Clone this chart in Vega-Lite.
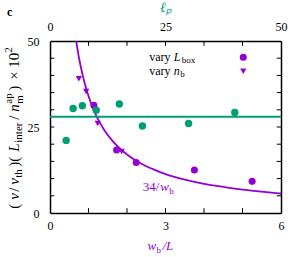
{
  "$schema": "https://vega.github.io/schema/vega-lite/v6.json",
  "autosize": {"type": "none"},
  "padding": {"left": 50, "top": 41, "right": 24, "bottom": 44},
  "width": 231,
  "height": 172,
  "config": {
    "view": {"stroke": null},
    "font": "Liberation Serif",
    "axis": {
      "labelFont": "Liberation Serif", "labelFontSize": 12, "labelColor": "black",
      "domainColor": "black", "domainWidth": 1.5, "ticks": false,
      "grid": false, "labelOverlap": false, "labelFlush": false,
      "titleFont": "Liberation Serif", "titleColor": "black", "titleFontWeight": "normal"
    },
    "text": {"font": "Liberation Serif", "align": "left", "baseline": "alphabetic"}
  },
  "datasets": {
    "green": [
      {"lp": 3.5, "v": 21.1}, {"lp": 5, "v": 30.4}, {"lp": 7, "v": 31.2}, {"lp": 10, "v": 29.9},
      {"lp": 15, "v": 31.7}, {"lp": 20, "v": 25.3}, {"lp": 30, "v": 26.0}, {"lp": 40, "v": 29.2}
    ],
    "circles": [
      {"wb": 1.14, "v": 31.3}, {"wb": 1.73, "v": 18.3}, {"wb": 2.24, "v": 14.7},
      {"wb": 3.75, "v": 12.5}, {"wb": 5.25, "v": 9.2}
    ],
    "triangles": [
      {"wb": 0.75, "v": 39.0}, {"wb": 0.94, "v": 35.3}, {"wb": 1.24, "v": 26.0}, {"wb": 1.86, "v": 17.9}
    ],
    "curve": [
      {"wb": 0.68, "v": 50.0}, {"wb": 0.72, "v": 47.2}, {"wb": 0.76, "v": 44.7}, {"wb": 0.8, "v": 42.5},
      {"wb": 0.85, "v": 40.0}, {"wb": 0.9, "v": 37.8}, {"wb": 1.0, "v": 34.0}, {"wb": 1.1, "v": 30.9},
      {"wb": 1.2, "v": 28.3}, {"wb": 1.3, "v": 26.2}, {"wb": 1.4, "v": 24.3}, {"wb": 1.6, "v": 21.25},
      {"wb": 1.8, "v": 18.9}, {"wb": 2.0, "v": 17.0}, {"wb": 2.25, "v": 15.1}, {"wb": 2.5, "v": 13.6},
      {"wb": 2.75, "v": 12.4}, {"wb": 3.0, "v": 11.3}, {"wb": 3.5, "v": 9.7}, {"wb": 4.0, "v": 8.5},
      {"wb": 4.5, "v": 7.6}, {"wb": 5.0, "v": 6.8}, {"wb": 5.5, "v": 6.2}, {"wb": 6.0, "v": 5.67}
    ],
    "level": [{"v": 28.0}],
    "yticks": [{"t": 5}, {"t": 10}, {"t": 15}, {"t": 20}, {"t": 25}, {"t": 30}, {"t": 35}, {"t": 40}, {"t": 45}],
    "xticks": [{"t": 1}, {"t": 2}, {"t": 3}, {"t": 4}, {"t": 5}]
  },
  "layer": [
    {
      "encoding": {
        "x": {"type": "quantitative", "scale": {"domain": [0, 6], "nice": false, "zero": false}},
        "y": {"type": "quantitative", "scale": {"domain": [0, 50], "nice": false, "zero": false}}
      },
      "layer": [
        {
          "data": {"name": "curve"},
          "mark": {"type": "line", "color": "#9400d3", "strokeWidth": 1.8, "interpolate": "monotone", "clip": true},
          "encoding": {
            "x": {"field": "wb", "type": "quantitative",
              "axis": {"orient": "bottom", "values": [0, 3, 6], "labelPadding": 7, "title": null}},
            "y": {"field": "v", "type": "quantitative",
              "axis": {"orient": "left", "values": [0, 25, 50], "labelPadding": 11, "title": null}}
          }
        },
        {
          "data": {"name": "yticks"},
          "mark": {"type": "rule", "color": "black", "strokeWidth": 1},
          "encoding": {"y": {"field": "t", "type": "quantitative"}, "x": {"datum": 0}, "x2": {"datum": 0.11}}
        },
        {
          "data": {"name": "yticks"},
          "mark": {"type": "rule", "color": "black", "strokeWidth": 1},
          "encoding": {"y": {"field": "t", "type": "quantitative"}, "x": {"datum": 5.89}, "x2": {"datum": 6}}
        },
        {
          "data": {"name": "xticks"},
          "mark": {"type": "rule", "color": "black", "strokeWidth": 1},
          "encoding": {"x": {"field": "t", "type": "quantitative"}, "y": {"datum": 0}, "y2": {"datum": 1.4}}
        },
        {
          "data": {"name": "xticks"},
          "mark": {"type": "rule", "color": "black", "strokeWidth": 1},
          "encoding": {"x": {"field": "t", "type": "quantitative"}, "y": {"datum": 48.6}, "y2": {"datum": 50}}
        },
        {
          "data": {"name": "circles"},
          "mark": {"type": "point", "filled": true, "opacity": 1, "size": 50, "color": "#9400d3"},
          "encoding": {"x": {"field": "wb", "type": "quantitative"}, "y": {"field": "v", "type": "quantitative"}}
        },
        {
          "data": {"name": "triangles"},
          "mark": {"type": "point", "shape": "triangle-down", "filled": true, "opacity": 1, "size": 40, "color": "#9400d3"},
          "encoding": {"x": {"field": "wb", "type": "quantitative"}, "y": {"field": "v", "type": "quantitative"}}
        },
        {
          "data": {"values": [{"s": "circle"}]},
          "mark": {"type": "point", "filled": true, "opacity": 1, "size": 50, "color": "#9400d3"},
          "encoding": {"x": {"datum": 5.02}, "y": {"datum": 45.3}}
        },
        {
          "data": {"values": [{"s": "triangle"}]},
          "mark": {"type": "point", "shape": "triangle-down", "filled": true, "opacity": 1, "size": 40, "color": "#9400d3"},
          "encoding": {"x": {"datum": 5.02}, "y": {"datum": 41.2}}
        },
        {
          "data": {"values": [{"t": "vary"}]},
          "mark": {"type": "text", "fontSize": 12, "color": "black"},
          "encoding": {"x": {"datum": 2.575}, "y": {"datum": 44.3}, "text": {"field": "t"}}
        },
        {
          "data": {"values": [{"t": "L"}]},
          "mark": {"type": "text", "fontSize": 12, "fontStyle": "italic", "color": "black", "dx": 24.5},
          "encoding": {"x": {"datum": 2.575}, "y": {"datum": 44.3}, "text": {"field": "t"}}
        },
        {
          "data": {"values": [{"t": "box"}]},
          "mark": {"type": "text", "fontSize": 9, "color": "black", "dx": 32.5, "dy": 2.5},
          "encoding": {"x": {"datum": 2.575}, "y": {"datum": 44.3}, "text": {"field": "t"}}
        },
        {
          "data": {"values": [{"t": "vary"}]},
          "mark": {"type": "text", "fontSize": 12, "color": "black"},
          "encoding": {"x": {"datum": 2.575}, "y": {"datum": 40.2}, "text": {"field": "t"}}
        },
        {
          "data": {"values": [{"t": "n"}]},
          "mark": {"type": "text", "fontSize": 12, "fontStyle": "italic", "color": "black", "dx": 24.5},
          "encoding": {"x": {"datum": 2.575}, "y": {"datum": 40.2}, "text": {"field": "t"}}
        },
        {
          "data": {"values": [{"t": "b"}]},
          "mark": {"type": "text", "fontSize": 9, "color": "black", "dx": 31, "dy": 2.5},
          "encoding": {"x": {"datum": 2.575}, "y": {"datum": 40.2}, "text": {"field": "t"}}
        },
        {
          "data": {"values": [{"t": "34/"}]},
          "mark": {"type": "text", "fontSize": 13, "color": "#9400d3"},
          "encoding": {"x": {"datum": 2.41}, "y": {"datum": 6.5}, "text": {"field": "t"}}
        },
        {
          "data": {"values": [{"t": "w"}]},
          "mark": {"type": "text", "fontSize": 13, "fontStyle": "italic", "color": "#9400d3", "dx": 17.5},
          "encoding": {"x": {"datum": 2.41}, "y": {"datum": 6.5}, "text": {"field": "t"}}
        },
        {
          "data": {"values": [{"t": "b"}]},
          "mark": {"type": "text", "fontSize": 9, "color": "#9400d3", "dx": 26.5, "dy": 3},
          "encoding": {"x": {"datum": 2.41}, "y": {"datum": 6.5}, "text": {"field": "t"}}
        },
        {
          "data": {"values": [{"t": "w"}]},
          "mark": {"type": "text", "fontSize": 13, "fontStyle": "italic", "color": "#9400d3"},
          "encoding": {"x": {"datum": 2.53}, "y": {"datum": -10.7}, "text": {"field": "t"}}
        },
        {
          "data": {"values": [{"t": "b"}]},
          "mark": {"type": "text", "fontSize": 9, "color": "#9400d3", "dx": 9, "dy": 3},
          "encoding": {"x": {"datum": 2.53}, "y": {"datum": -10.7}, "text": {"field": "t"}}
        },
        {
          "data": {"values": [{"t": "/L"}]},
          "mark": {"type": "text", "fontSize": 13, "fontStyle": "italic", "color": "#9400d3", "dx": 15},
          "encoding": {"x": {"datum": 2.53}, "y": {"datum": -10.7}, "text": {"field": "t"}}
        },
        {
          "data": {"values": [{"t": "c"}]},
          "mark": {"type": "text", "fontSize": 12, "fontWeight": "bold", "color": "black"},
          "encoding": {"x": {"datum": -1.12}, "y": {"datum": 57.2}, "text": {"field": "t"}}
        },
        {"data": {"values": [{"t": "("}]}, "mark": {"type": "text", "angle": 270, "fontSize": 15, "color": "black", "dx": 0},
         "encoding": {"x": {"datum": -0.806}, "y": {"datum": 1.25}, "text": {"field": "t"}}},
        {"data": {"values": [{"t": "v"}]}, "mark": {"type": "text", "angle": 270, "fontSize": 15, "fontStyle": "italic", "color": "black", "dx": 9},
         "encoding": {"x": {"datum": -0.806}, "y": {"datum": 1.25}, "text": {"field": "t"}}},
        {"data": {"values": [{"t": "/"}]}, "mark": {"type": "text", "angle": 270, "fontSize": 15, "color": "black", "dx": 17},
         "encoding": {"x": {"datum": -0.806}, "y": {"datum": 1.25}, "text": {"field": "t"}}},
        {"data": {"values": [{"t": "v"}]}, "mark": {"type": "text", "angle": 270, "fontSize": 15, "fontStyle": "italic", "color": "black", "dx": 24},
         "encoding": {"x": {"datum": -0.806}, "y": {"datum": 1.25}, "text": {"field": "t"}}},
        {"data": {"values": [{"t": "th"}]}, "mark": {"type": "text", "angle": 270, "fontSize": 11, "color": "black", "dx": 31, "dy": 3.5},
         "encoding": {"x": {"datum": -0.806}, "y": {"datum": 1.25}, "text": {"field": "t"}}},
        {"data": {"values": [{"t": ")("}]}, "mark": {"type": "text", "angle": 270, "fontSize": 15, "color": "black", "dx": 42},
         "encoding": {"x": {"datum": -0.806}, "y": {"datum": 1.25}, "text": {"field": "t"}}},
        {"data": {"values": [{"t": "L"}]}, "mark": {"type": "text", "angle": 270, "fontSize": 15, "fontStyle": "italic", "color": "black", "dx": 57},
         "encoding": {"x": {"datum": -0.806}, "y": {"datum": 1.25}, "text": {"field": "t"}}},
        {"data": {"values": [{"t": "inter"}]}, "mark": {"type": "text", "angle": 270, "fontSize": 11, "color": "black", "dx": 66, "dy": 3.5},
         "encoding": {"x": {"datum": -0.806}, "y": {"datum": 1.25}, "text": {"field": "t"}}},
        {"data": {"values": [{"t": "/"}]}, "mark": {"type": "text", "angle": 270, "fontSize": 15, "color": "black", "dx": 89},
         "encoding": {"x": {"datum": -0.806}, "y": {"datum": 1.25}, "text": {"field": "t"}}},
        {"data": {"values": [{"t": "n"}]}, "mark": {"type": "text", "angle": 270, "fontSize": 15, "fontStyle": "italic", "color": "black", "dx": 97},
         "encoding": {"x": {"datum": -0.806}, "y": {"datum": 1.25}, "text": {"field": "t"}}},
        {"data": {"values": [{"t": "m"}]}, "mark": {"type": "text", "angle": 270, "fontSize": 11, "color": "black", "dx": 105, "dy": 4},
         "encoding": {"x": {"datum": -0.806}, "y": {"datum": 1.25}, "text": {"field": "t"}}},
        {"data": {"values": [{"t": "ap"}]}, "mark": {"type": "text", "angle": 270, "fontSize": 11, "color": "black", "dx": 105, "dy": -6.5},
         "encoding": {"x": {"datum": -0.806}, "y": {"datum": 1.25}, "text": {"field": "t"}}},
        {"data": {"values": [{"t": ")"}]}, "mark": {"type": "text", "angle": 270, "fontSize": 15, "color": "black", "dx": 118},
         "encoding": {"x": {"datum": -0.806}, "y": {"datum": 1.25}, "text": {"field": "t"}}},
        {"data": {"values": [{"t": "×"}]}, "mark": {"type": "text", "angle": 270, "fontSize": 15, "color": "black", "dx": 129},
         "encoding": {"x": {"datum": -0.806}, "y": {"datum": 1.25}, "text": {"field": "t"}}},
        {"data": {"values": [{"t": "10"}]}, "mark": {"type": "text", "angle": 270, "fontSize": 15, "color": "black", "dx": 141},
         "encoding": {"x": {"datum": -0.806}, "y": {"datum": 1.25}, "text": {"field": "t"}}},
        {"data": {"values": [{"t": "2"}]}, "mark": {"type": "text", "angle": 270, "fontSize": 11, "color": "black", "dx": 156, "dy": -6.5},
         "encoding": {"x": {"datum": -0.806}, "y": {"datum": 1.25}, "text": {"field": "t"}}}
      ]
    },
    {
      "encoding": {
        "x": {"type": "quantitative", "scale": {"domain": [0, 50], "nice": false, "zero": false}},
        "y": {"type": "quantitative", "scale": {"domain": [0, 50], "nice": false, "zero": false}}
      },
      "layer": [
        {
          "data": {"name": "level"},
          "mark": {"type": "rule", "color": "#009e73", "strokeWidth": 2},
          "encoding": {
            "y": {"field": "v", "type": "quantitative",
              "axis": {"orient": "right", "values": [0, 50], "labels": false, "title": null}}
          }
        },
        {
          "data": {"name": "green"},
          "mark": {"type": "point", "filled": true, "opacity": 1, "size": 55, "color": "#009e73"},
          "encoding": {
            "x": {"field": "lp", "type": "quantitative",
              "axis": {"orient": "top", "values": [0, 25, 50], "labelPadding": 8,
                "title": "ℓₚ", "titleColor": "#009e73", "titleFontSize": 14, "titleFontStyle": "italic", "titlePadding": 6}},
            "y": {"field": "v", "type": "quantitative"}
          }
        }
      ]
    }
  ],
  "resolve": {"scale": {"x": "independent", "y": "independent"}, "axis": {"x": "independent", "y": "independent"}}
}
